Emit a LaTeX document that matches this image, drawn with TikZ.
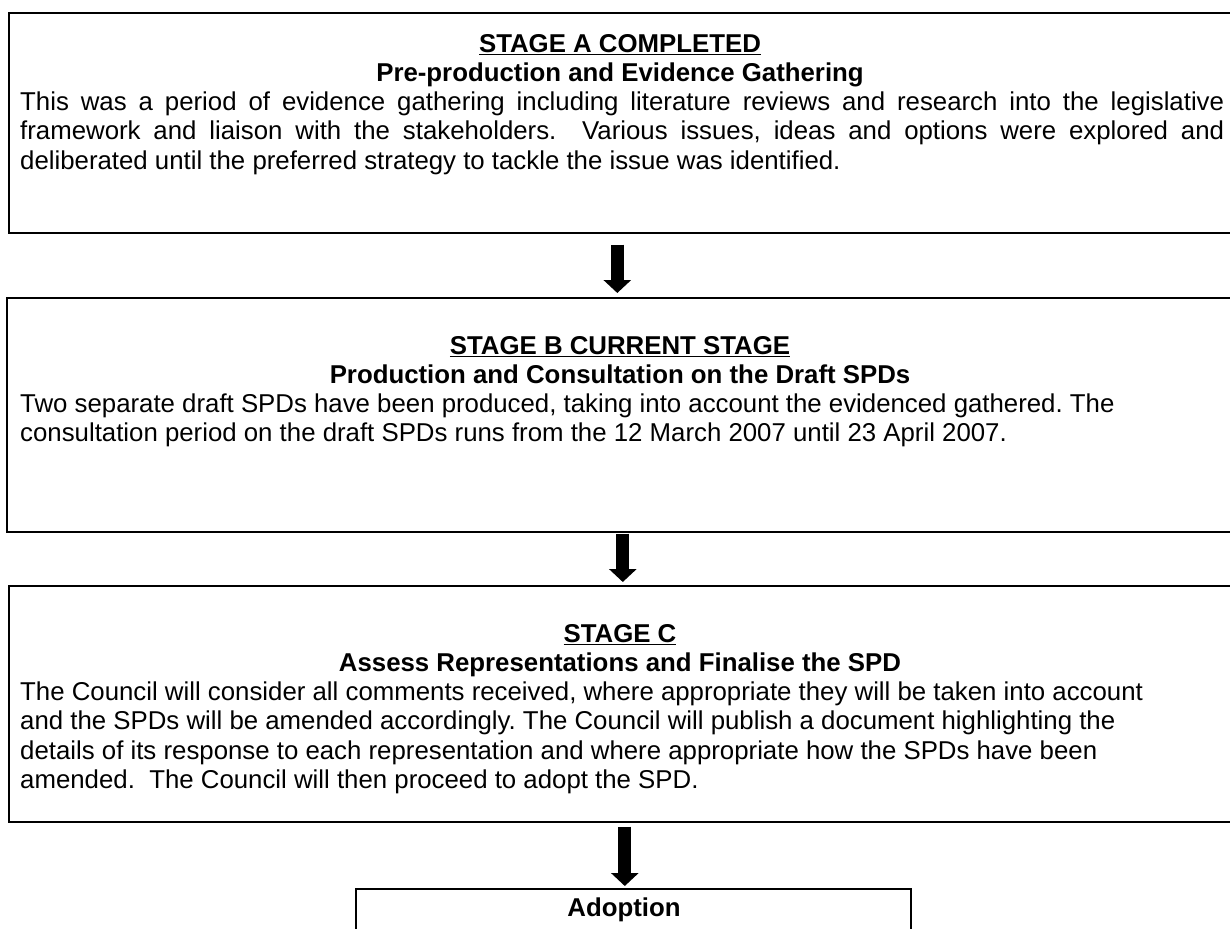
\documentclass[tikz,border=0pt]{standalone}
\usepackage{fontspec}
\setmainfont{Liberation Sans}
\usetikzlibrary{arrows.meta,positioning,calc}
\frenchspacing

\tikzset{
  stagebox/.style={draw, line width=1.6pt, anchor=north west, inner sep=0pt},
  headtext/.style={anchor=north, align=center, inner sep=0pt, font=\fontsize{25.8}{29.5}\selectfont\bfseries},
  bodytext/.style={anchor=north west, inner sep=0pt, font=\fontsize{25.8}{29.5}\selectfont},
  flowarrow/.style={line width=13pt, -{Triangle[width=27pt,length=13pt]}},
}

\begin{document}
\begin{tikzpicture}[x=1pt,y=-1pt]
\useasboundingbox (0,0) rectangle (1230,928);

% stage A
\node[stagebox, minimum width=1240pt, minimum height=220pt] (boxA) at (8,12) {};
\node[headtext] (headA) at (620,31.35) {\strut\underline{STAGE A COMPLETED}\\Pre-production and Evidence Gathering};
\node[bodytext, text width=1204pt, align=justify] (textA) at (20,89.35) {\strut This was a period of evidence gathering including literature reviews and research into the legislative\linebreak
framework and liaison with the stakeholders.\ \ Various issues, ideas and options were explored and\linebreak
deliberated until the preferred strategy to tackle the issue was identified.};

% stage B
\node[stagebox, minimum width=1240pt, minimum height=234pt] (boxB) at (6,297) {};
\node[headtext] (headB) at (620,333.35) {\strut\underline{STAGE B CURRENT STAGE}\\Production and Consultation on the Draft SPDs};
\node[bodytext, align=left] (textB) at (20,391.35) {\strut Two separate draft SPDs have been produced, taking into account the evidenced gathered. The\\
consultation period on the draft SPDs runs from the 12 March 2007 until 23 April 2007.};

% stage C
\node[stagebox, minimum width=1240pt, minimum height=236pt] (boxC) at (8,585) {};
\node[headtext] (headC) at (620,621.35) {\strut\underline{STAGE C}\\Assess Representations and Finalise the SPD};
\node[bodytext, align=left] (textC) at (20,679.35) {\strut The Council will consider all comments received, where appropriate they will be taken into account\\
and the SPDs will be amended accordingly. The Council will publish a document highlighting the\\
details of its response to each representation and where appropriate how the SPDs have been\\
amended.\ \ The Council will then proceed to adopt the SPD.};

% adoption
\node[stagebox, minimum width=555pt, minimum height=80pt] (boxD) at (355,888) {};
\node[headtext] (adoptText) at (624,895.35) {\strut Adoption};

% arrows
\draw[flowarrow, shorten <=11pt, shorten >=4pt] ([xshift=-11.5pt]boxA.south) -- ([xshift=-11.5pt]boxA.south |- boxB.north);
\draw[flowarrow, shorten <=1pt, shorten >=3pt] ([xshift=-4pt]boxB.south) -- ([xshift=-4pt]boxB.south |- boxC.north);
\draw[flowarrow, shorten <=4pt, shorten >=2pt] ([xshift=-4pt]boxC.south) -- ([xshift=-4pt]boxC.south |- boxD.north);
\end{tikzpicture}
\end{document}
